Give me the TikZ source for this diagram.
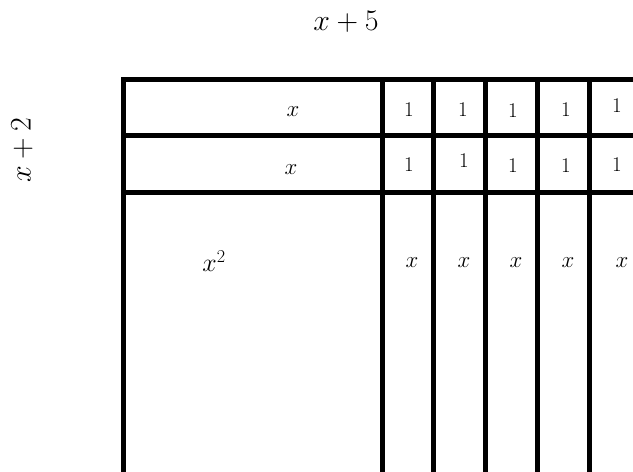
\RequirePackage{fix-cm}
\documentclass[tikz,border=0pt]{standalone}
\begin{document}
\begin{tikzpicture}[x=1bp,y=-1bp,
  rule/.style={line width=5bp,line join=miter,line cap=rect},
  big/.style={inner sep=0pt,font=\fontsize{30}{33}\selectfont},
  cell/.style={inner sep=0pt,anchor=base,font=\fontsize{21}{24}\selectfont},
  var/.style={inner sep=0pt,anchor=base,font=\fontsize{23}{26}\selectfont},
  sqr/.style={inner sep=0pt,anchor=base,font=\fontsize{26}{29}\selectfont}]
\useasboundingbox (0,0) rectangle (633,472);
\clip (0,0) rectangle (633,472);
% outer frame
\draw[rule] (123,490) -- (123,79.5) -- (660,79.5);
% row dividers
\draw[rule] (123,135.5) -- (660,135.5);
\draw[rule] (123,192.5) -- (660,192.5);
% column dividers
\foreach \cx in {382,433.5,485,537.5,589.5,641}
  \draw[rule] (\cx,79.5) -- (\cx,490);
% titles
\node[big] (top) at (346,22) {$x+5$};
\node[big,rotate=90] (side) at (22,150) {$x+2$};
% long strips
\node[var] (r1) at (293,117) {$x$};
\node[var] (r2) at (291,175) {$x$};
\node[sqr] (sq) at (214,272) {$x^2$};
% unit squares, row 1
\node[cell] (a1) at (409,117) {$1$};
\node[cell] (a2) at (463,117) {$1$};
\node[cell] (a3) at (513,118) {$1$};
\node[cell] (a4) at (566,117) {$1$};
\node[cell] (a5) at (617,113) {$1$};
% unit squares, row 2
\node[cell] (b1) at (409,172) {$1$};
\node[cell] (b2) at (464,168) {$1$};
\node[cell] (b3) at (513,173) {$1$};
\node[cell] (b4) at (566,173) {$1$};
\node[cell] (b5) at (617,172) {$1$};
% vertical strips
\node[var] (c1) at (412,268) {$x$};
\node[var] (c2) at (464,268) {$x$};
\node[var] (c3) at (516,268) {$x$};
\node[var] (c4) at (568,268) {$x$};
\node[var] (c5) at (622,268) {$x$};
\end{tikzpicture}
\end{document}
